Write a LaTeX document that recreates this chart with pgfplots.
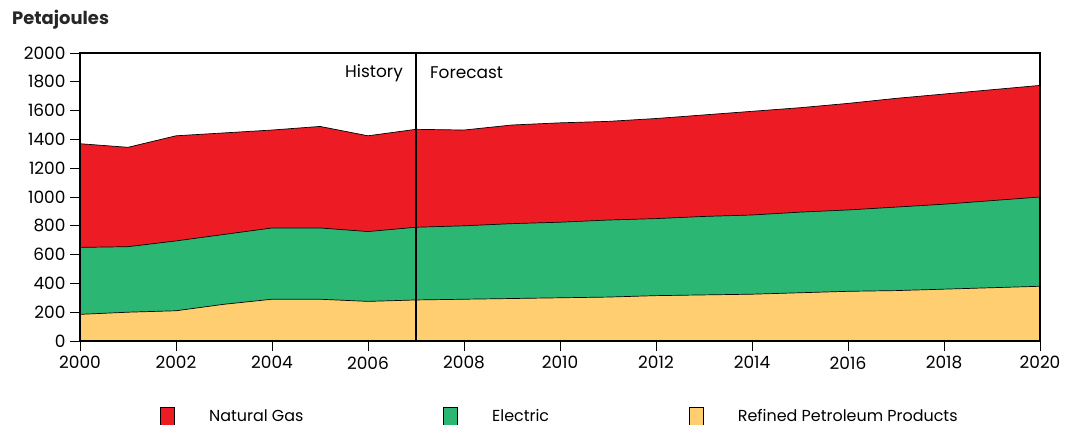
\documentclass[border=0pt]{standalone}
\usepackage{fontspec}
\setmainfont{Poppins}
\usepackage{pgfplots}
\usepackage{pgfplotstable}
\pgfplotsset{compat=1.18}
\definecolor{gasred}{RGB}{237,28,36}
\definecolor{elecgreen}{RGB}{43,182,115}
\definecolor{petyellow}{RGB}{255,206,112}
% cumulative (stacked) tops
\pgfplotstableread{
year total mid pet
2000 1370 650 185
2001 1345 655 200
2002 1425 695 210
2003 1445 740 255
2004 1465 785 290
2005 1490 785 290
2006 1425 760 275
2007 1470 790 285
2008 1465 800 290
2009 1500 815 295
2010 1515 825 300
2011 1525 840 305
2012 1545 850 315
2013 1570 865 320
2014 1595 875 325
2015 1620 895 335
2016 1650 910 345
2017 1685 930 350
2018 1715 950 360
2019 1745 975 370
2020 1775 1000 380
}\datatable
\begin{document}
\begin{tikzpicture}
\begin{axis}[
 width=960bp, height=288bp, scale only axis,
 xmin=2000, xmax=2020, ymin=0, ymax=2000,
 xtick={2000,2002,...,2020}, ytick={0,200,...,2000},
 tick pos=left, tick align=outside,
 major tick length=10bp,
 every tick/.style={black, line width=0.8pt},
 axis line style={line width=2.2pt},
 axis on top,
 /pgf/number format/1000 sep={},
 /pgf/number format/assume math mode=true,
 tick label style={font=\fontsize{17}{20}\selectfont},
 xticklabel style={yshift=-2bp},
 yticklabel style={xshift=-1bp},
 legend columns=3,
 legend style={at={(0.5,-0.26)}, anchor=center, draw=none, fill=none,
   font=\fontsize{16}{19}\selectfont,
   /tikz/every even column/.append style={column sep=138bp},
   /tikz/every odd column/.append style={column sep=32bp}},
 legend cell align=left,
 every axis plot/.append style={draw=black, line width=0.7pt,
   legend image code/.code={\draw[##1, line width=0.7pt] (0bp,-9bp) rectangle (14bp,9bp);}},
]
\addplot[fill=gasred] table[x=year, y=total] {\datatable} \closedcycle;
\addlegendentry{Natural Gas}
\addplot[fill=elecgreen] table[x=year, y=mid] {\datatable} \closedcycle;
\addlegendentry{Electric}
\addplot[fill=petyellow] table[x=year, y=pet] {\datatable} \closedcycle;
\addlegendentry{Refined Petroleum Products}
\draw[line width=2pt] (axis cs:2007,0) -- (axis cs:2007,2000);
\node[anchor=east, inner sep=0pt, xshift=-13bp, font=\fontsize{17}{20}\selectfont] at (axis cs:2007,1860) {History};
\node[anchor=west, inner sep=0pt, xshift=14bp, font=\fontsize{17}{20}\selectfont] at (axis cs:2007,1860) {Forecast};
\coordinate (sw) at (rel axis cs:0,0);
\end{axis}
\node[anchor=west, inner sep=0pt, font=\bfseries\fontsize{18}{21}\selectfont, text=black!85] at ([shift={(-68bp,321bp)}]sw) {Petajoules};
\pgfresetboundingbox
\path[use as bounding box] ([shift={(-80bp,-84bp)}]sw) rectangle ([shift={(989bp,341bp)}]sw);
\end{tikzpicture}
\end{document}
